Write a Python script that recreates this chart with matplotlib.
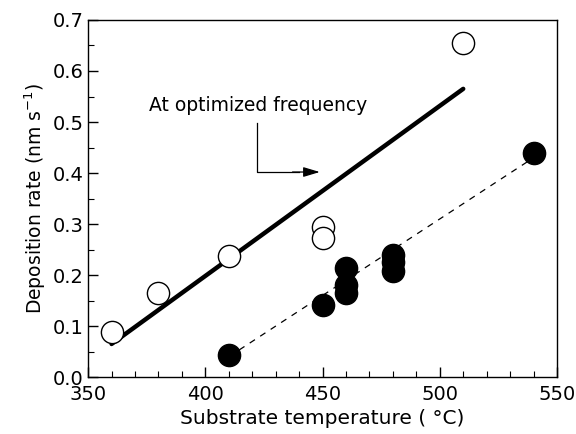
import numpy as np
import matplotlib.pyplot as plt
from matplotlib.ticker import MultipleLocator

plt.rcParams['font.family'] = ['DejaVu Sans']

# Open circles (at optimized frequency)
open_T = [360, 380, 410, 450, 450, 510]
open_rate = [0.089, 0.165, 0.237, 0.295, 0.272, 0.655]

# Filled circles
fill_T = [410, 450, 460, 460, 460, 480, 480, 480, 540]
fill_rate = [0.043, 0.142, 0.213, 0.180, 0.165, 0.240, 0.225, 0.208, 0.440]

# Fit lines (end points)
solid_T = [360, 510]
solid_rate = [0.065, 0.565]
dash_T = [410, 540]
dash_rate = [0.040, 0.430]

fig = plt.figure(figsize=(5.76, 4.34), dpi=100)
ax = fig.add_axes([0.153, 0.131, 0.814, 0.823])

ax.plot(solid_T, solid_rate, 'k-', linewidth=3.2, solid_capstyle='round', zorder=2)
ax.plot(dash_T, dash_rate, 'k--', linewidth=0.9, dashes=(5, 5), zorder=1)
ax.plot(open_T, open_rate, 'o', ms=16, mfc='white', mec='black', mew=1.0, zorder=3)
ax.plot(fill_T, fill_rate, 'o', ms=16, mfc='black', mec='black', zorder=3)

ax.text(376, 0.533, 'At optimized frequency', fontsize=13.5, va='center', ha='left')
ax.plot([422, 422, 440], [0.498, 0.402, 0.402], 'k-', lw=0.9)
ax.annotate('', xy=(450, 0.402), xytext=(436, 0.402),
            arrowprops=dict(arrowstyle='-|>,head_length=1.0,head_width=0.3', color='black', lw=0.9))

ax.set_xlim(350, 550)
ax.set_ylim(0, 0.7)
ax.xaxis.set_major_locator(MultipleLocator(50))
ax.xaxis.set_minor_locator(MultipleLocator(10))
ax.yaxis.set_major_locator(MultipleLocator(0.1))
ax.yaxis.set_minor_locator(MultipleLocator(0.05))
ax.yaxis.set_major_formatter(plt.FormatStrFormatter('%.1f'))
ax.tick_params(which='both', direction='in', top=False, right=False)
ax.tick_params(which='major', length=7, width=1.0, labelsize=14)
ax.tick_params(which='minor', length=4, width=0.8)
ax.tick_params(axis='x', pad=6)

ax.set_xlabel('Substrate temperature ( °C)', fontsize=14.5, labelpad=3)
ax.set_ylabel('Deposition rate (nm s$^{-1}$)', fontsize=13.5, labelpad=3)

for s in ax.spines.values():
    s.set_linewidth(1.0)

fig.savefig('out.png', dpi=100)
